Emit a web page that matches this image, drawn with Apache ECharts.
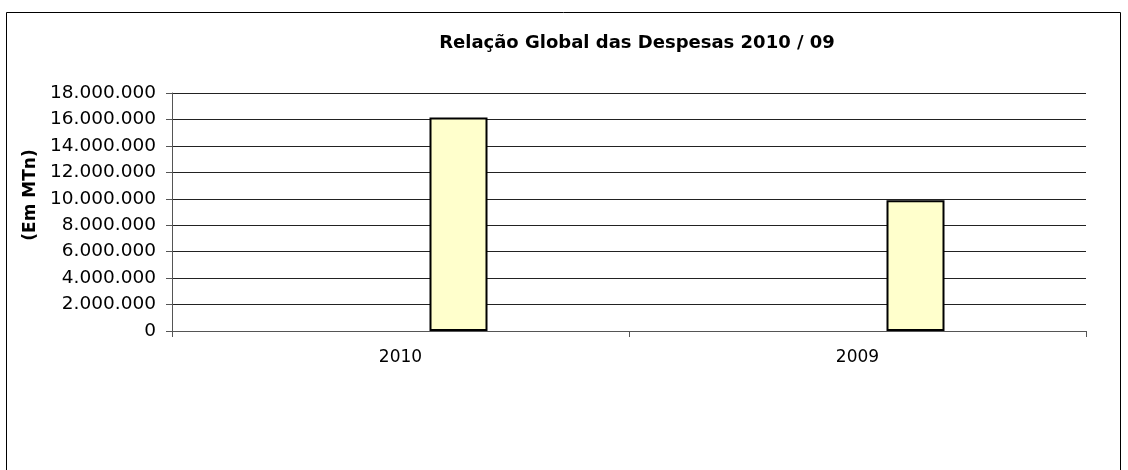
<!DOCTYPE html>
<html>
<head>
<meta charset="utf-8">
<script src="https://cdn.jsdelivr.net/npm/echarts@6/dist/echarts.min.js"></script>
<style>
  html, body { margin: 0; padding: 0; background: #fff; }
  #chart { width: 1128px; height: 470px; }
</style>
</head>
<body>
<div id="chart"></div>
<script>
const categories = ['2010', '2009']
// the source chart has two empty series before the visible one (bars sit right of centre)
const emptyA = [null, null]
const emptyB = [null, null]
const despesas = [16150000, 9880000]

const yMin = 0
const yMax = 18000000
const yStep = 2000000

function fmt(v) {
  return String(v).replace(/\B(?=(\d{3})+(?!\d))/g, '.')
}

const chart = echarts.init(document.getElementById('chart'))

const barBase = {
  type: 'bar',
  barWidth: 58,
  barGap: '0%',
  itemStyle: { color: '#FFFFCC', borderColor: '#000', borderWidth: 2 }
}

chart.setOption({
  animation: false,
  textStyle: { fontFamily: 'DejaVu Sans' },
  title: {
    text: 'Relação Global das Despesas 2010 / 09',
    left: 632,
    textAlign: 'center',
    top: 29,
    textStyle: { fontSize: 18, fontWeight: 'bold', color: '#000', fontFamily: 'DejaVu Sans' }
  },
  graphic: [{
    type: 'rect',
    shape: { x: 6.5, y: 12.5, width: 1114, height: 470 },
    style: { fill: 'none', stroke: '#000', lineWidth: 1 },
    silent: true
  }],
  grid: { left: 172, right: 42, top: 93, bottom: 139 },
  xAxis: {
    type: 'category',
    data: categories,
    axisLine: { lineStyle: { color: '#555', width: 1 } },
    axisTick: { show: true, length: 6, alignWithLabel: false, lineStyle: { color: '#555' } },
    axisLabel: { color: '#000', fontSize: 17, margin: 18 }
  },
  yAxis: {
    type: 'value',
    min: yMin,
    max: yMax,
    interval: yStep,
    name: '(Em MTn)',
    nameLocation: 'middle',
    nameGap: 124,
    nameRotate: 90,
    nameTextStyle: { color: '#000', fontSize: 17, fontWeight: 'bold', padding: [0, 0, 0, 34] },
    axisLine: { show: true, lineStyle: { color: '#555', width: 1 } },
    axisTick: { show: true, length: 6, lineStyle: { color: '#555' } },
    axisLabel: { color: '#000', fontSize: 18.5, margin: 16, formatter: fmt },
    splitLine: { show: true, lineStyle: { color: '#222', width: 1 } }
  },
  series: [
    Object.assign({ name: 'a', data: emptyA }, barBase),
    Object.assign({ name: 'b', data: emptyB }, barBase),
    Object.assign({ name: 'Despesas', data: despesas }, barBase)
  ]
})
</script>
</body>
</html>
